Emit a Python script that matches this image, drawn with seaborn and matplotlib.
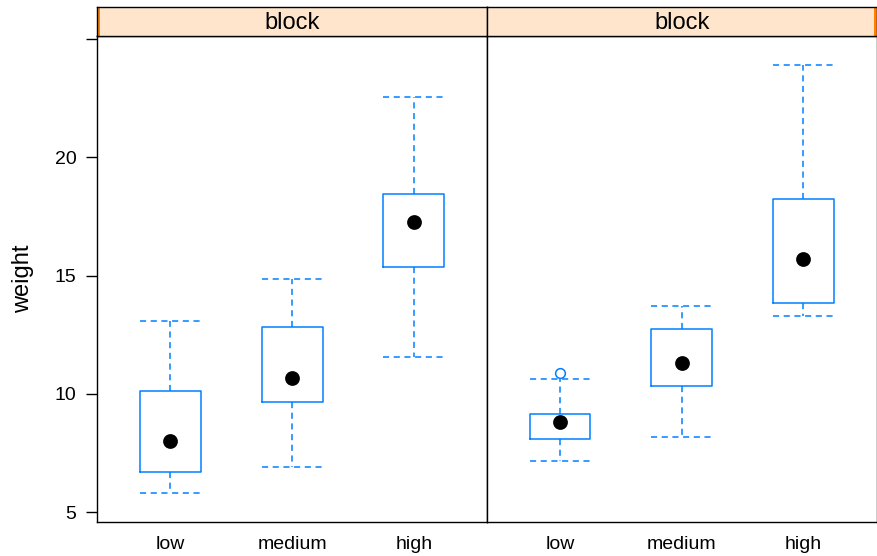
import numpy as np
import pandas as pd
import matplotlib
matplotlib.use("Agg")
import matplotlib.pyplot as plt
import seaborn as sns

# values
levels = ['low', 'medium', 'high']
blocks = ['1', '2']
strip_label = 'block'

block1_low = [5.79, 6.69, 7.99, 10.10, 13.06]
block1_medium = [6.89, 9.67, 10.65, 12.84, 14.84]
block1_high = [11.55, 15.37, 17.27, 18.46, 22.54]
block2_low = [7.16, 7.80, 8.10, 8.50, 8.82, 9.00, 9.14, 10.61, 10.89]
block2_medium = [8.19, 10.34, 11.31, 12.75, 13.71]
block2_high = [13.28, 13.85, 15.69, 18.22, 23.91]

yticks = [5, 10, 15, 20, 25]
ytick_labels = ['5', '10', '15', '20', '']

groups = {
    ('1', 'low'): block1_low, ('1', 'medium'): block1_medium, ('1', 'high'): block1_high,
    ('2', 'low'): block2_low, ('2', 'medium'): block2_medium, ('2', 'high'): block2_high,
}
rows = []
for (b, lv), vals in groups.items():
    for v in vals:
        rows.append({'block': b, 'level': lv, 'weight': v})
df = pd.DataFrame(rows)

sns.set_theme(style='white')
plt.rcParams['font.family'] = ['Liberation Sans', 'DejaVu Sans']

blue = '#0080ff'
dash = (0, (4.0, 3.0))

fig = plt.figure(figsize=(8.77, 5.56), dpi=100)
W, H = 877.0, 556.0
left_px, right_px = 97.3, 876.5
pw = (right_px - left_px) / 2
top_px, bot_px = 36.0, 522.0
strip_top = 7.0

for i, b in enumerate(blocks):
    x0 = left_px + i * pw
    ax = fig.add_axes([x0 / W, 1 - bot_px / H, pw / W, (bot_px - top_px) / H])
    sub = df[df['block'] == b]
    sns.boxplot(data=sub, x='level', y='weight', order=levels, ax=ax,
                width=0.5, fill=False, color=blue, linewidth=1.1, whis=1.5,
                medianprops={'visible': False},
                whiskerprops={'linestyle': dash},
                capprops={'linestyle': dash},
                flierprops={'marker': 'o', 'markersize': 7, 'markerfacecolor': 'none',
                            'markeredgecolor': blue, 'markeredgewidth': 1.1},
                capwidths=0.5)
    sns.pointplot(data=sub, x='level', y='weight', order=levels, ax=ax,
                  estimator='median', errorbar=None, color='black',
                  linestyle='none', marker='o', markersize=8.6)
    ax.set_xlim(-0.6, 2.6)
    ax.set_ylim(4.58, 25.13)
    ax.set_xlabel('')
    for s in ax.spines.values():
        s.set_color('black')
        s.set_linewidth(1.0)
    ax.tick_params(axis='x', length=0, pad=10, labelsize=14, colors='black')
    if i == 0:
        ax.set_yticks(yticks)
        ax.set_yticklabels(ytick_labels)
        ax.tick_params(axis='y', left=True, length=8, width=1.0, pad=7,
                       labelsize=14, colors='black', direction='out')
        ax.set_ylabel('weight', fontsize=17, color='black')
        ax.yaxis.set_label_coords(-0.162, 0.5)
    else:
        ax.set_yticks([])
        ax.set_ylabel('')

    # strip on top of each panel
    sax = fig.add_axes([x0 / W, 1 - top_px / H, pw / W, (top_px - strip_top) / H])
    sax.set_xlim(0, 1)
    sax.set_ylim(0, 1)
    sax.set_facecolor('#ffe5cc')
    sax.set_xticks([])
    sax.set_yticks([])
    for s in sax.spines.values():
        s.set_color('black')
        s.set_linewidth(1.0)
    ind_w = 3.0 / pw
    ind_x = 0 if i == 0 else 1 - ind_w
    sax.axvspan(ind_x, ind_x + ind_w, color='#ff7f00', lw=0)
    sax.text(0.5, 0.45, strip_label, ha='center', va='center', fontsize=17, color='black')

fig.savefig('out.png', dpi=100)
